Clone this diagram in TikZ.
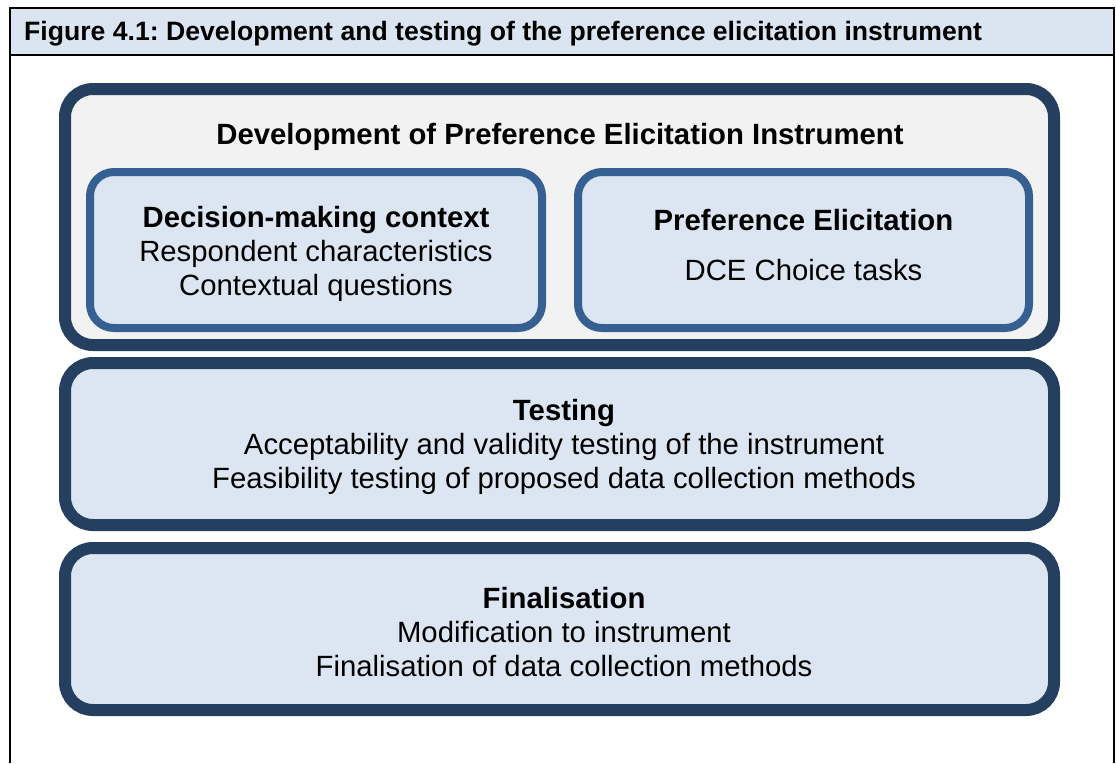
\documentclass[tikz,border=0pt]{standalone}
\usepackage{fontspec}
\setmainfont{Liberation Sans}
\frenchspacing
\definecolor{navy}{HTML}{243F60}
\definecolor{midblue}{HTML}{376092}
\definecolor{paleblue}{HTML}{DCE6F2}
\definecolor{hdrblue}{HTML}{DBE5F1}
\definecolor{palegrey}{HTML}{F2F2F2}
\tikzset{
  outerbox/.style={draw=navy, line width=12pt, rounded corners=28pt, inner sep=0pt},
  innerbox/.style={draw=midblue, fill=paleblue, line width=8pt, rounded corners=24pt, inner sep=0pt},
  bodytext/.style={align=center, inner sep=0pt, font=\fontsize{29.3}{34}\selectfont},
  frameline/.style={draw=black, line width=2pt},
}
\begin{document}
\begin{tikzpicture}[x=1pt,y=-1pt]
\useasboundingbox (0,0) rectangle (1116,763);
% frame and header
\fill[hdrblue] (10,8) rectangle (1114,55);
\path[frameline] (10,763) -- (10,8) -- (1114,8) -- (1114,763);
\path[frameline] (10,55) -- (1114,55);
\node[anchor=west, inner sep=0pt, font=\bfseries\fontsize{26.6}{30}\selectfont] (hdr) at (24,34) {Figure 4.1: Development and testing of the preference elicitation instrument};
% boxes
\node[outerbox, fill=palegrey, minimum width=989pt, minimum height=256pt] (dev) at (559.5,217) {};
\node[innerbox, minimum width=452pt, minimum height=156pt] (ctx) at (316,250) {};
\node[innerbox, minimum width=451pt, minimum height=156pt] (pe) at (803.5,250) {};
\node[outerbox, fill=paleblue, minimum width=989pt, minimum height=162pt] (test) at (559.5,444) {};
\node[outerbox, fill=paleblue, minimum width=989pt, minimum height=162pt] (fin) at (559.5,629) {};
% texts
\node[bodytext, font=\bfseries\fontsize{29.3}{34}\selectfont] (devtitle) at (560,137) {Development of Preference Elicitation Instrument};
\node[bodytext] (ctxtext) at (316,253.5) {\textbf{Decision-making context}\\Respondent characteristics\\Contextual questions};
\node[bodytext, font=\bfseries\fontsize{29.3}{34}\selectfont] (petitle) at (803.5,220) {Preference Elicitation};
\node[bodytext] (petext) at (803.5,270) {DCE Choice tasks};
\node[bodytext] (testtext) at (564,446.5) {\textbf{Testing}\\Acceptability and validity testing of the instrument\\Feasibility testing of proposed data collection methods};
\node[bodytext] (fintext) at (564,632) {\textbf{Finalisation}\\Modification to instrument\\Finalisation of data collection methods};
\end{tikzpicture}
\end{document}
